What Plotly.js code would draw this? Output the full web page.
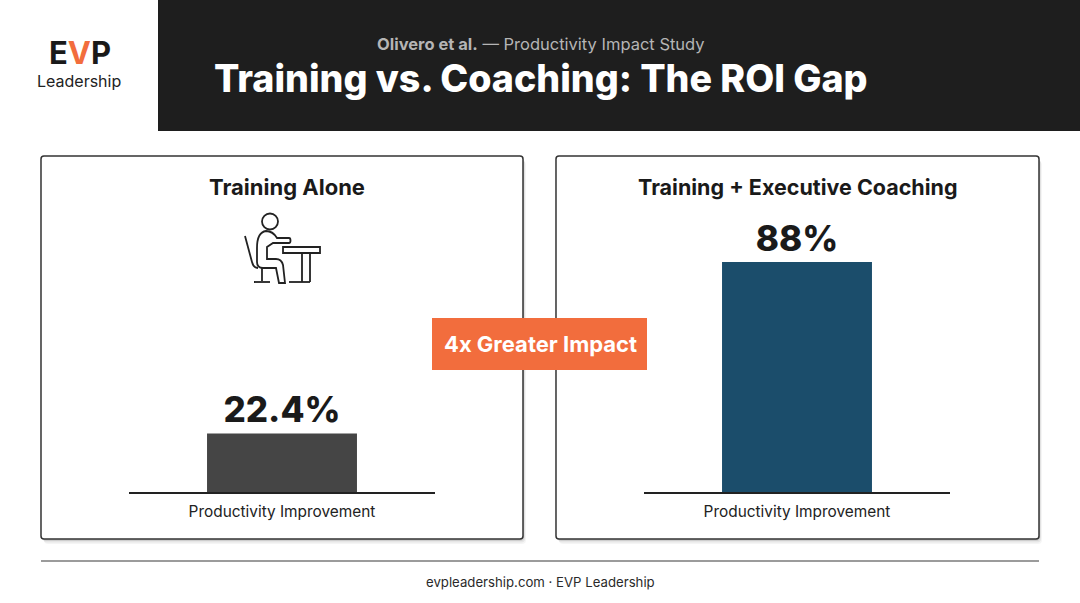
<!DOCTYPE html>
<html>
<head>
<meta charset="utf-8">
<script src="https://cdn.plot.ly/plotly-3.0.1.min.js"></script>
<style>
html,body{margin:0;padding:0;background:#fff;}
#chart{width:1080px;height:603px;}
</style>
</head>
<body>
<div id="chart"></div>
<script>
// ---- data ----
const categories = ['Productivity Improvement'];
const trainingAlone = [22.4];
const trainingCoaching = [88];
const panelTitles = ['Training Alone', 'Training + Executive Coaching'];
const chartTitle = 'Training vs. Coaching: The ROI Gap';
const chartSubtitle = '<b>Olivero et al.</b> — Productivity Impact Study';
const badgeText = '4x Greater Impact';
const footerText = 'evpleadership.com · EVP Leadership';

// ---- helpers (pixel -> paper) ----
const W = 1080, H = 603;
const px = x => x / W;
const py = y => 1 - y / H;
const path = d => d.replace(/(-?\d+\.?\d*),(-?\d+\.?\d*)/g,
  (m, x, y) => px(+x).toFixed(5) + ',' + py(+y).toFixed(5));
const FONT = 'Inter, "Liberation Sans", Arial, sans-serif';
const ORANGE = '#f26d3d';

function roundRect(x0, y0, x1, y1, r) {
  return path(`M ${x0 + r},${y0} L ${x1 - r},${y0} Q ${x1},${y0} ${x1},${y0 + r} L ${x1},${y1 - r} Q ${x1},${y1} ${x1 - r},${y1} L ${x0 + r},${y1} Q ${x0},${y1} ${x0},${y1 - r} L ${x0},${y0 + r} Q ${x0},${y0} ${x0 + r},${y0} Z`);
}

const shapes = [];
// header band
shapes.push({type: 'rect', xref: 'paper', yref: 'paper', x0: px(158), x1: 1, y0: py(131), y1: 1,
  fillcolor: '#1e1e1e', line: {width: 0}, layer: 'below'});
// panels with soft shadows
[[41, 156, 523, 539], [556, 156, 1039, 539]].forEach(([x0, y0, x1, y1]) => {
  [[5, 'rgba(0,0,0,0.04)'], [3.5, 'rgba(0,0,0,0.06)'], [2, 'rgba(0,0,0,0.10)']].forEach(([o, c]) => {
    shapes.push({type: 'path', xref: 'paper', yref: 'paper', path: roundRect(x0 + o * 0.6, y0 + o, x1 + o * 0.6, y1 + o, 4),
      fillcolor: c, line: {width: 0}, layer: 'below'});
  });
  shapes.push({type: 'path', xref: 'paper', yref: 'paper', path: roundRect(x0, y0, x1, y1, 3),
    fillcolor: '#ffffff', line: {color: '#333333', width: 1.5}, layer: 'below'});
});
// badge
shapes.push({type: 'rect', xref: 'paper', yref: 'paper', x0: px(432), x1: px(647), y0: py(370), y1: py(318),
  fillcolor: ORANGE, line: {width: 0}, layer: 'below'});
// footer rule
shapes.push({type: 'line', xref: 'paper', yref: 'paper', x0: px(41), x1: px(1039), y0: py(561), y1: py(561),
  line: {color: '#7a7a7a', width: 1.3}, layer: 'below'});

// icon: person at desk
const iconLine = {color: '#222222', width: 1.8};
shapes.push({type: 'circle', xref: 'paper', yref: 'paper', x0: px(262), x1: px(278), y0: py(229.5), y1: py(213.5),
  line: iconLine, layer: 'above'});
[
  // body outline
  'M 266,231 C 259,232 257,238 257,248 L 257,262 C 257,266 259,268 263,268 L 276,268 L 279,283 L 285,283 L 283,265 C 282,261 280,259 276,259 L 267,259 L 267,247 L 273,243 L 289,243 C 291,243 291,238 289,238 L 277,238 C 274,233 271,231 266,231 Z',
  // chair back + seat
  'M 245,236 L 252,262 C 253,266 255,268 258,268',
  // chair stem and base
  'M 262,268 L 262,281',
  'M 254,282 L 270,282',
  // desk top
  'M 283,247 L 320,247 L 320,253 L 283,253 Z',
  // desk leg
  'M 302,253 L 302,282 M 310,253 L 310,282',
  // desk foot
  'M 289,282 L 310,282'
].forEach(d => shapes.push({type: 'path', xref: 'paper', yref: 'paper', path: path(d),
  line: iconLine, fillcolor: 'rgba(0,0,0,0)', layer: 'above'}));

const annotations = [
  // logo
  {text: `<b>E<span style="color:${ORANGE}">V</span>P</b>`, x: px(79.5), y: py(52), font: {family: FONT, size: 31, color: '#1a1a1a'}},
  {text: 'Leadership', x: px(79), y: py(81), font: {family: FONT, size: 16, color: '#222222'}},
  // header texts
  {text: chartSubtitle, x: px(375), y: py(44), xanchor: 'left', font: {family: FONT, size: 16.5, color: '#b5b5b5'}},
  {text: chartTitle, x: px(212), y: py(79), xanchor: 'left', font: {family: FONT, size: 37.6, color: '#ffffff', weight: 800}},
  // panel titles
  {text: `<b>${panelTitles[0]}</b>`, x: px(286.5), y: py(187), font: {family: FONT, size: 22, color: '#1a1a1a'}},
  {text: `<b>${panelTitles[1]}</b>`, x: px(798), y: py(187), font: {family: FONT, size: 21.5, color: '#1a1a1a'}},
  // badge
  {text: `<b>${badgeText}</b>`, x: px(540), y: py(344), font: {family: FONT, size: 22, color: '#ffffff'}},
  // footer
  {text: footerText, x: px(540), y: py(582), font: {family: FONT, size: 13.2, color: '#2a2a2a'}}
].map(a => Object.assign({xref: 'paper', yref: 'paper', showarrow: false, xanchor: 'center', yanchor: 'middle'}, a));

const yDomain = [py(492), py(230.6)];
const xAxisBase = {
  type: 'category', showline: true, linecolor: '#222222', linewidth: 1.5, ticks: '',
  showgrid: false, zeroline: false, fixedrange: true, ticklabelstandoff: 5,
  tickfont: {family: FONT, size: 15.4, color: '#222222'}
};
const yAxisBase = {range: [0, 100], visible: false, showgrid: false, zeroline: false, fixedrange: true, domain: yDomain};

const traces = [
  {type: 'bar', x: categories, y: trainingAlone, xaxis: 'x', yaxis: 'y',
   marker: {color: '#454545'}, texttemplate: '%{y}%', textposition: 'outside', cliponaxis: false,
   textfont: {family: FONT, size: 35, color: '#1a1a1a', weight: 800}, hoverinfo: 'skip'},
  {type: 'bar', x: categories, y: trainingCoaching, xaxis: 'x2', yaxis: 'y2',
   marker: {color: '#1b4d6b'}, texttemplate: '%{y}%', textposition: 'outside', cliponaxis: false,
   textfont: {family: FONT, size: 35, color: '#1a1a1a', weight: 800}, hoverinfo: 'skip'}
];

const layout = {
  width: W, height: H, margin: {l: 0, r: 0, t: 0, b: 0},
  paper_bgcolor: '#ffffff', plot_bgcolor: 'rgba(0,0,0,0)',
  showlegend: false, bargap: 0.51,
  xaxis: Object.assign({}, xAxisBase, {domain: [px(129), px(435)], anchor: 'y'}),
  yaxis: Object.assign({}, yAxisBase, {anchor: 'x'}),
  xaxis2: Object.assign({}, xAxisBase, {domain: [px(644), px(950)], anchor: 'y2'}),
  yaxis2: Object.assign({}, yAxisBase, {anchor: 'x2'}),
  shapes: shapes, annotations: annotations,
  font: {family: FONT}
};

Plotly.newPlot('chart', traces, layout, {displayModeBar: false, staticPlot: true});
</script>
</body>
</html>
